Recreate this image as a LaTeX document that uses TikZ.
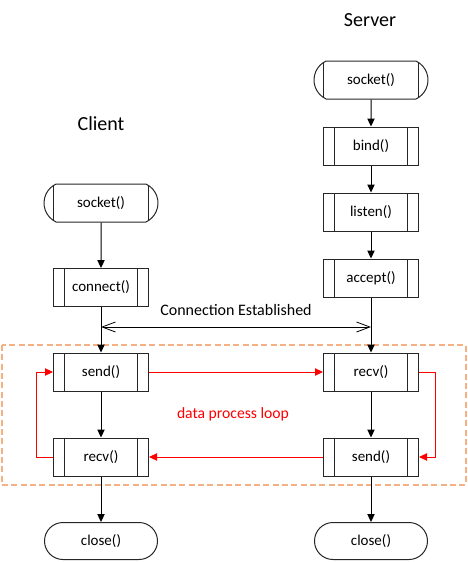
\documentclass[tikz,border=0pt]{standalone}
\usepackage{fontspec}
\setmainfont{Carlito}
\usetikzlibrary{shapes.misc,arrows.meta}

\definecolor{loopbox}{HTML}{F4B183}

\tikzset{
  proc/.style={
    draw=black!85,rectangle,line width=0.75pt,inner sep=0pt,
    minimum width=71.25pt,minimum height=28.5pt,font=\fontsize{11.25}{13}\selectfont,
    path picture={
      \draw[black!85,line width=0.75pt]
        ([xshift=8.6pt]path picture bounding box.north west) -- ([xshift=8.6pt]path picture bounding box.south west)
        ([xshift=-8.6pt]path picture bounding box.north east) -- ([xshift=-8.6pt]path picture bounding box.south east);
    },
  },
  term/.style={
    draw=black!85,rounded rectangle,rounded rectangle arc length=130,line width=0.75pt,inner sep=0pt,
    minimum width=85.5pt,minimum height=28.5pt,font=\fontsize{11.25}{13}\selectfont,
    path picture={
      \draw[black!85,line width=0.75pt]
        ([xshift=9pt]path picture bounding box.north west) -- ([xshift=9pt]path picture bounding box.south west)
        ([xshift=-9pt]path picture bounding box.north east) -- ([xshift=-9pt]path picture bounding box.south east);
    },
  },
  ends/.style={
    draw=black!85,rounded rectangle,line width=0.75pt,inner sep=0pt,
    minimum width=84.75pt,minimum height=27.75pt,font=\fontsize{11.25}{13}\selectfont,
  },
  flow/.style={-{Triangle[length=6pt,width=5.5pt]},line width=0.75pt},
  conn/.style={{Straight Barb[length=10pt,width=7.5pt]}-{Straight Barb[length=10pt,width=7.5pt]},line width=0.6pt},
  loop/.style={-{Triangle[length=6pt,width=5.5pt]},red,line width=0.75pt},
}

\begin{document}
\begin{tikzpicture}[x=0.75pt,y=-0.75pt]
    \useasboundingbox (0,0) rectangle (468,562);

    \draw[loopbox,line width=0.9pt,dash pattern=on 4.5pt off 2.5pt] (2,345) rectangle (466,485);

    \node[font=\fontsize{15}{18}\selectfont] (server) at (370,20)  {Server};
    \node[font=\fontsize{15}{18}\selectfont] (client) at (101,124) {Client};

    \node[term] (ssock)   at (371,80)  {socket()};
    \node[proc] (sbind)   at (371,146) {bind()};
    \node[proc] (slisten) at (371,212) {listen()};
    \node[proc] (saccept) at (371,278) {accept()};
    \node[proc] (srecv)   at (371,372) {recv()};
    \node[proc] (ssend)   at (371,457) {send()};
    \node[ends] (sclose)  at (371,541) {close()};

    \node[term] (csock)   at (101,203)   {socket()};
    \node[proc] (cconn)   at (101,287.5) {connect()};
    \node[proc] (csend)   at (101,372)   {send()};
    \node[proc] (crecv)   at (101,457)   {recv()};
    \node[ends] (cclose)  at (101,541)   {close()};

    \draw[flow] (ssock) -- (sbind);
    \draw[flow] (sbind) -- (slisten);
    \draw[flow] (slisten) -- (saccept);
    \draw[flow] (saccept) -- (srecv);
    \draw[flow] (srecv) -- (ssend);
    \draw[flow] (ssend) -- (sclose);

    \draw[flow] (csock) -- (cconn);
    \draw[flow] (cconn) -- (csend);
    \draw[flow] (csend) -- (crecv);
    \draw[flow] (crecv) -- (cclose);

    \coordinate (cest) at (101,327);
    \coordinate (sest) at (371,327);
    \draw[conn] (cest) -- (sest);
    \node[font=\fontsize{12}{14}\selectfont] (est) at (236,310) {Connection Established};

    \draw[loop] (csend) -- (srecv);
    \draw[loop] (srecv.east) -- ++(16,0) |- (ssend.east);
    \draw[loop] (ssend) -- (crecv);
    \draw[loop] (crecv.west) -- ++(-17,0) |- (csend.west);

    \node[red,font=\fontsize{11.75}{14}\selectfont] (dpl) at (233,414) {data process loop};
\end{tikzpicture}
\end{document}
